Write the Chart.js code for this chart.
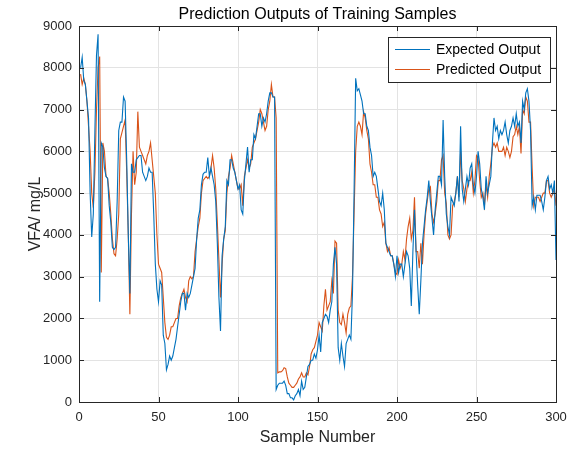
<!DOCTYPE html>
<html>
<head>
<meta charset="utf-8">
<script src="https://cdn.jsdelivr.net/npm/chart.js@4.4.1/dist/chart.umd.min.js"></script>
<style>
  html, body { margin: 0; padding: 0; background: #fff; }
  #wrap { width: 583px; height: 451px; }
</style>
</head>
<body>
<div id="wrap"><canvas id="vfaChart" width="583" height="451"></canvas></div>
<script>
// Chart text
const chartTitle = 'Prediction Outputs of Training Samples';
const xTitle = 'Sample Number';
const yTitle = 'VFA/ mg/L';
const seriesNames = ['Expected Output', 'Predicted Output'];

// Axis ticks
const xTicks = [0, 50, 100, 150, 200, 250, 300];
const yTicks = [0, 1000, 2000, 3000, 4000, 5000, 6000, 7000, 8000, 9000];

// Expected output, samples 1..300
const expected = [
  8000, 8250, 7700, 7600, 7200, 6800, 5000, 3950, 4500, 6500,
  8300, 8800, 2400, 6200, 6100, 5600, 5400, 5350, 4700, 4300,
  3700, 3650, 3700, 4800, 6500, 6700, 6700, 7300, 7200, 5800,
  4000, 2600, 5700, 5500, 5500, 5800, 5850, 5900, 5900, 5500,
  5400, 5300, 5400, 5600, 5500, 5500, 4500, 3300, 2700, 2400,
  2900, 2800, 1600, 1400, 770, 900, 1100, 1000, 1100, 1300,
  1500, 1800, 2100, 2400, 2600, 2600, 2200, 2600, 2500, 2600,
  2800, 3000, 3200, 3900, 4400, 4600, 5200, 5450, 5500, 5500,
  5850, 5400, 5600, 5400, 5200, 4800, 3800, 2500, 1700, 3500,
  3900, 4200, 5300, 5200, 5800, 5800, 5600, 5500, 5300, 5100,
  5200, 4600, 4500, 5300, 5700, 6100, 5500, 5800, 5800, 6400,
  6300, 6600, 6900, 6900, 6600, 6800, 6700, 6900, 7200, 7400,
  7400, 7300, 7300, 300, 400, 450, 450, 450, 500, 400,
  200, 200, 100, 100, 50, 150, 200, 300, 150, 500,
  300, 350, 600, 850, 900, 1000, 1000, 1150, 1050, 1250,
  1600, 1200, 1900, 2000, 2100, 2050, 1900, 2200, 2400, 3300,
  3700, 3300, 1300, 1000, 1400, 1100, 850, 1400, 1500, 1600,
  1500, 2600, 5000, 7750, 7450, 7500, 7350, 7200, 6900, 6900,
  6600, 6500, 6100, 5900, 5400, 5500, 5400, 5100, 4800, 4700,
  5000, 4600, 3800, 3700, 3600, 3500, 3500, 3300, 3000, 3500,
  3100, 3300, 3300, 3000, 3300, 3600, 3500, 3200, 2300, 3600,
  4600, 3600, 2800, 2100, 2900, 3800, 4200, 4600, 4900, 5300,
  4800, 4400, 4000, 4600, 5000, 5400, 5400, 5200, 6750, 5400,
  4500, 4200, 4000, 4900, 4800, 4700, 5000, 5400, 4800, 6600,
  5100, 4800, 5100, 5400, 5200, 5600, 5700, 5200, 5000, 5400,
  6000, 5700, 5100, 4900, 4600, 5400, 5000, 5200, 5400, 6200,
  6800, 6500, 6600, 6300, 6500, 6400, 6500, 6700, 6400, 6200,
  6500, 6600, 6800, 6600, 6900, 6600, 6700, 6200, 7200, 7000,
  7400, 7500, 7200, 6500, 4700, 4900, 4600, 4950, 4950, 4950,
  4800, 4600, 4900, 5300, 5400, 5100, 5200, 5000, 5300, 3400
];

// Predicted output, samples 1..300
const predicted = [
  7850, 7600, 7750, 7600, 7200, 6600, 6000, 5000, 4650, 5500,
  7000, 8000, 8270, 3100, 6200, 6000, 5400, 5350, 5000, 4500,
  3900, 3550, 3500, 3900, 4500, 6300, 6450, 6600, 6750, 5500,
  4000, 2100, 4500, 6000, 5200, 5500, 6950, 6100, 6000, 5900,
  5800, 5700, 5900, 6000, 6200, 5800, 5400, 5000, 4000, 3300,
  3200, 3100, 2500, 1900, 1550, 1500, 1600, 1800, 1800, 1900,
  2000, 2000, 2300, 2500, 2600, 2700, 2500, 2400, 2900, 3000,
  2950, 3000, 3600, 3900, 4200, 4400, 5000, 5300, 5350, 5400,
  5350, 5400, 5600, 5900, 5600, 5100, 4300, 3400, 2500, 3300,
  3900, 4100, 5000, 5400, 5600, 5900, 5700, 5500, 5300, 5100,
  5100, 5200, 4700, 5400, 5600, 5800, 5600, 5700, 6100, 6200,
  6300, 6500, 6700, 7000, 6900, 6700, 6500, 6600, 7000, 7200,
  7600, 7300, 7300, 6800, 700, 720, 720, 750, 820, 800,
  600, 450, 400, 350, 350, 400, 450, 550, 600, 700,
  600, 600, 700, 650, 850, 1150, 1250, 1300, 1450, 1600,
  1900, 1800, 1700, 2300, 2700, 2200, 2300, 2400, 2900, 2600,
  3850, 3800, 2200, 1900, 1850, 2100, 1900, 1650, 2100, 2250,
  2300, 3000, 4500, 6000, 6600, 6700, 6600, 6400, 6950, 6800,
  6500, 6300, 5700, 5500, 5200, 5200, 4900, 4900, 4600, 4500,
  4200, 4300, 3800, 3600, 3700, 3500, 3500, 3300, 3100, 3050,
  3400, 3200, 3300, 3600, 3400, 3900, 4200, 4400, 3900, 4100,
  4900, 3600, 3600, 3200, 3800, 3300, 4000, 4500, 4800, 5100,
  5150, 4500, 4300, 4500, 4800, 5300, 5300, 5800, 5900, 5000,
  4750, 4000, 3900, 4000, 4700, 4800, 5000, 5400, 4900, 6000,
  5300, 5100, 4800, 5100, 5300, 5300, 5500, 5000, 5300, 5900,
  5850, 5300, 4900, 5000, 4700, 5200, 4900, 5400, 5700, 6100,
  6200, 6100, 6200, 6000, 6000, 6000, 6100, 5900, 6100, 6000,
  5850, 6000, 6350, 6400, 6600, 6400, 6600, 5950, 7000, 6900,
  7300, 7200, 6700, 6700, 5600, 4700, 4900, 4900, 4900, 4800,
  4900, 5000, 5000, 5300, 5300, 5000, 4900, 5000, 5100, 4700
];

const blue = '#0072BD';
const orange = '#D95319';
const axisColor = '#262626';
const fontFamily = '"Liberation Sans", Arial, Helvetica, sans-serif';

// Frame, inward ticks, title and boxed legend, MATLAB style
const matlabDecor = {
  id: 'matlabDecor',
  afterDraw(chart) {
    const ctx = chart.ctx;
    const area = chart.chartArea;
    const xs = chart.scales.x;
    const ys = chart.scales.y;
    const tl = 5;

    ctx.save();
    ctx.strokeStyle = axisColor;
    ctx.lineWidth = 1;
    ctx.beginPath();
    xTicks.forEach(t => {
      const px = Math.round(xs.getPixelForValue(t)) + 0.5;
      ctx.moveTo(px, area.bottom); ctx.lineTo(px, area.bottom - tl);
      ctx.moveTo(px, area.top); ctx.lineTo(px, area.top + tl);
    });
    yTicks.forEach(t => {
      const py = Math.round(ys.getPixelForValue(t)) + 0.5;
      ctx.moveTo(area.left, py); ctx.lineTo(area.left + tl, py);
      ctx.moveTo(area.right, py); ctx.lineTo(area.right - tl, py);
    });
    ctx.stroke();
    ctx.strokeRect(Math.round(area.left) + 0.5, Math.round(area.top) + 0.5,
                   Math.round(area.right - area.left), Math.round(area.bottom - area.top));

    // title
    ctx.fillStyle = '#000';
    ctx.font = '16px ' + fontFamily;
    ctx.textAlign = 'center';
    ctx.textBaseline = 'middle';
    ctx.fillText(chartTitle, (area.left + area.right) / 2, 15);

    // legend box
    const lx = 388, ly = 37, lw = 162, lh = 45;
    ctx.fillStyle = '#fff';
    ctx.fillRect(lx, ly, lw, lh);
    ctx.strokeStyle = '#262626';
    ctx.strokeRect(lx + 0.5, ly + 0.5, lw, lh);
    ctx.font = '14px ' + fontFamily;
    ctx.textAlign = 'left';
    chart.data.datasets.forEach((ds, i) => {
      const y = ly + 12 + i * 20;
      ctx.strokeStyle = ds.borderColor;
      ctx.beginPath();
      ctx.moveTo(lx + 7, y + 0.5);
      ctx.lineTo(lx + 42, y + 0.5);
      ctx.stroke();
      ctx.fillStyle = '#000';
      ctx.fillText(ds.label, lx + 48, y + 1);
    });
    ctx.restore();
  }
};

new Chart(document.getElementById('vfaChart').getContext('2d'), {
  type: 'line',
  data: {
    datasets: [
      {
        label: seriesNames[0],
        data: expected.map((v, i) => ({ x: i + 1, y: v })),
        borderColor: blue,
        borderWidth: 1.1,
        pointRadius: 0,
        tension: 0,
        fill: false
      },
      {
        label: seriesNames[1],
        data: predicted.map((v, i) => ({ x: i + 1, y: v })),
        borderColor: orange,
        borderWidth: 1.1,
        pointRadius: 0,
        tension: 0,
        fill: false
      }
    ]
  },
  options: {
    responsive: false,
    animation: false,
    layout: { padding: { top: 26, right: 27, left: 0, bottom: 0 } },
    plugins: {
      legend: { display: false },
      tooltip: { enabled: false }
    },
    scales: {
      x: {
        type: 'linear',
        min: 0,
        max: 300,
        afterFit: s => { s.height = 49; },
        afterBuildTicks: s => { s.ticks = xTicks.map(v => ({ value: v })); },
        ticks: { color: axisColor, font: { family: fontFamily, size: 13 }, padding: 8, maxRotation: 0,
                 callback: v => String(v) },
        grid: { color: '#e3e3e3', drawTicks: false },
        border: { display: false },
        title: { display: true, text: xTitle, color: axisColor, font: { family: fontFamily, size: 16 }, padding: { top: 0, bottom: 4 } }
      },
      y: {
        min: 0,
        max: 9000,
        afterFit: s => { s.width = 79; },
        afterBuildTicks: s => { s.ticks = yTicks.map(v => ({ value: v })); },
        ticks: { color: axisColor, font: { family: fontFamily, size: 13 }, padding: 7,
                 callback: v => String(v) },
        grid: { color: '#e3e3e3', drawTicks: false },
        border: { display: false },
        title: { display: true, text: yTitle, color: axisColor, font: { family: fontFamily, size: 16 }, padding: { top: 26, bottom: 0 } }
      }
    }
  },
  plugins: [matlabDecor]
});
</script>
</body>
</html>
